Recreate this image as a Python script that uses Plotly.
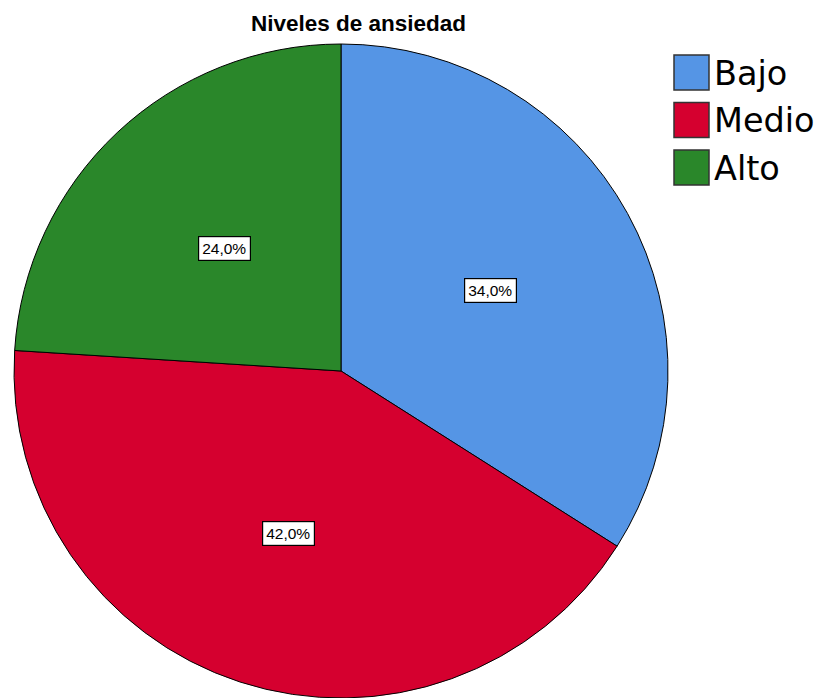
import math
import plotly.graph_objects as go

# Anxiety level distribution (percent)
categories = ["Bajo", "Medio", "Alto"]
percentages = [34.0, 42.0, 24.0]
colors = ["#5595E5", "#D5002F", "#2A872A"]
title_text = "Niveles de ansiedad"

W, H = 820, 698
# pie domain in pixels (left, right, top, bottom)
px_left, px_right, px_top, px_bottom = 12, 670, 44, 698

fig = go.Figure(
    go.Pie(
        labels=categories,
        values=percentages,
        sort=False,
        direction="clockwise",
        rotation=0,
        marker=dict(colors=colors, line=dict(color="#000000", width=1)),
        textinfo="none",
        hoverinfo="label+percent",
        showlegend=False,
        domain=dict(x=[px_left / W, px_right / W], y=[0, 1 - px_top / H]),
    )
)

# geometry of the drawn pie, used to place the value boxes
radius = min(px_right - px_left, px_bottom - px_top) / 2
cx = (px_left + px_right) / 2
cy = (px_top + px_bottom) / 2
total = sum(percentages)

annotations = []
cum = 0.0
for cat, val in zip(categories, percentages):
    mid = (cum + val / 2) / total * 2 * math.pi
    cum += val
    lx = cx + 0.52 * radius * math.sin(mid)
    ly = cy - 0.52 * radius * math.cos(mid) + 1
    annotations.append(
        dict(
            x=lx / W, y=1 - ly / H, xref="paper", yref="paper",
            text=f"{val:.1f}%".replace(".", ","),
            showarrow=False,
            font=dict(family="Liberation Sans, Arial, sans-serif", size=15.5, color="#000000"),
            bgcolor="#FFFFFF", bordercolor="#000000", borderwidth=1.2, borderpad=3,
            xanchor="center", yanchor="middle",
        )
    )

# title
annotations.append(
    dict(
        x=358 / W, y=1 - 23 / H, xref="paper", yref="paper",
        text=f"<b>{title_text}</b>", showarrow=False,
        font=dict(family="Liberation Sans, Arial, sans-serif", size=22.5, color="#000000"),
        xanchor="center", yanchor="middle",
    )
)

# custom legend with large swatches
shapes = []
box = 35
row_step = 47.5
top0 = 55
for i, (cat, col) in enumerate(zip(categories, colors)):
    y0 = top0 + i * row_step
    shapes.append(
        dict(
            type="rect", xref="paper", yref="paper",
            x0=674 / W, x1=(674 + box) / W,
            y0=1 - (y0 + box) / H, y1=1 - y0 / H,
            fillcolor=col, line=dict(color="#333333", width=1.5),
        )
    )
    annotations.append(
        dict(
            x=712 / W, y=1 - (y0 + box / 2 + 1) / H, xref="paper", yref="paper",
            text=cat, showarrow=False,
            font=dict(family="DejaVu Sans, sans-serif", size=33.5, color="#000000"),
            xanchor="left", yanchor="middle",
        )
    )

fig.update_layout(
    width=W, height=H,
    margin=dict(l=0, r=0, t=0, b=0),
    paper_bgcolor="#FFFFFF",
    plot_bgcolor="#FFFFFF",
    annotations=annotations,
    shapes=shapes,
)

fig.write_html("out.html")
